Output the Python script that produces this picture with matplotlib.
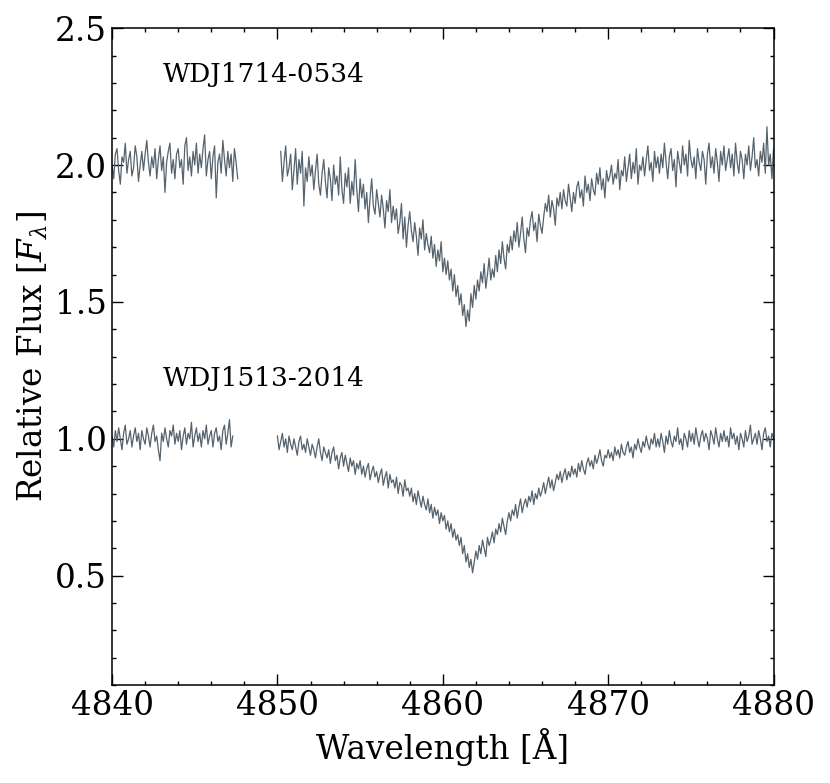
import numpy as np
import matplotlib
matplotlib.use('Agg')
from matplotlib import pyplot as plt
from matplotlib.ticker import MultipleLocator

plt.rcParams['font.family'] = 'DejaVu Serif'
plt.rcParams['mathtext.fontset'] = 'dejavuserif'

# WDJ1714-0534, offset by +1, blue side of the gap (starts 4840.0 A, 0.1 A steps)
top_left = [
    2.00, 1.95, 2.04, 2.06, 1.98, 1.93, 2.03, 2.01, 2.08, 1.97,
    2.02, 2.05, 1.96, 1.99, 2.07, 2.03, 1.94, 2.00, 2.05, 1.98,
    2.04, 2.09, 2.01, 1.96, 2.03, 1.99, 2.06, 1.95, 2.02, 2.07,
    1.98, 2.03, 1.90, 2.01, 2.05, 2.08, 1.97, 2.02, 1.95, 2.04,
    2.06, 1.99, 2.02, 1.93, 2.07, 2.10, 1.98, 2.03, 1.96, 2.05,
    2.00, 2.08, 1.97, 2.04, 1.99, 2.06, 2.11, 1.96, 2.02, 2.05,
    1.95, 2.03, 2.07, 1.88, 2.01, 2.04, 1.97, 2.09, 2.02, 1.96,
    2.05, 1.99, 2.04, 1.94, 2.06, 2.01, 1.95]
# red side of the gap (starts 4850.2 A)
top_right = [
    2.05, 1.94, 2.01, 2.07, 1.96, 1.99, 2.04, 1.91, 1.98, 2.06,
    1.93, 2.02, 1.97, 2.05, 1.85, 1.99, 1.94, 2.03, 1.96, 2.00,
    1.91, 1.98, 2.04, 1.93, 1.89, 1.97, 2.02, 1.94, 1.88, 1.99,
    1.95, 1.87, 2.00, 1.93, 1.96, 1.89, 2.03, 1.91, 1.86, 1.97,
    1.92, 1.99, 1.86, 1.94, 1.89, 2.02, 1.91, 1.83, 1.95, 1.88,
    1.93, 1.84, 1.90, 1.79, 1.88, 1.95, 1.85, 1.82, 1.91, 1.86,
    1.81, 1.89, 1.84, 1.77, 1.87, 1.83, 1.91, 1.79, 1.85, 1.80,
    1.84, 1.75, 1.79, 1.86, 1.73, 1.81, 1.70, 1.78, 1.83, 1.76,
    1.72, 1.79, 1.74, 1.67, 1.77, 1.73, 1.80, 1.69, 1.75, 1.71,
    1.68, 1.74, 1.66, 1.71, 1.63, 1.69, 1.65, 1.72, 1.61, 1.66,
    1.60, 1.65, 1.58, 1.62, 1.54, 1.60, 1.52, 1.56, 1.49, 1.53,
    1.45, 1.49, 1.41, 1.47, 1.43, 1.53, 1.48, 1.56, 1.51, 1.58,
    1.54, 1.61, 1.57, 1.64, 1.55, 1.60, 1.66, 1.58, 1.62, 1.59,
    1.67, 1.61, 1.69, 1.64, 1.72, 1.66, 1.62, 1.71, 1.68, 1.74,
    1.69, 1.76, 1.72, 1.79, 1.70, 1.75, 1.81, 1.73, 1.68, 1.77,
    1.74, 1.80, 1.83, 1.76, 1.79, 1.72, 1.82, 1.78, 1.75, 1.81,
    1.86, 1.83, 1.89, 1.81, 1.87, 1.84, 1.78, 1.88, 1.85, 1.90,
    1.84, 1.91, 1.87, 1.85, 1.93, 1.88, 1.83, 1.90, 1.86, 1.92,
    1.94, 1.88, 1.91, 1.85, 1.96, 1.90, 1.93, 1.87, 1.95, 1.91,
    1.89, 1.97, 1.93, 1.99, 1.91, 1.95, 1.88, 1.98, 1.94, 1.96,
    2.00, 1.93, 1.97, 1.95, 2.02, 1.91, 1.98, 1.96, 2.03, 1.94,
    1.99, 2.04, 1.95, 2.01, 1.97, 2.06, 1.93, 2.00, 1.98, 2.03,
    1.96, 2.02, 2.07, 1.98, 2.01, 1.94, 2.05, 1.99, 2.03, 1.97,
    2.04, 1.99, 2.08, 2.01, 1.95, 2.03, 2.06, 1.98, 2.02, 1.92,
    2.05, 2.01, 1.97, 2.07, 2.00, 2.04, 1.96, 2.09, 2.02, 1.99,
    2.03, 1.95, 2.06, 2.01, 1.98, 2.05, 2.02, 1.93, 2.04, 2.08,
    1.99, 2.03, 1.97, 2.06, 2.01, 1.94, 2.05, 2.00, 2.07, 1.98,
    2.02, 2.06, 1.99, 2.04, 1.96, 2.08, 2.01, 1.97, 2.05, 2.02,
    1.95, 2.04, 2.00, 2.07, 1.98, 2.03, 2.10, 1.99, 2.02, 1.96,
    2.05, 2.01, 2.08, 1.97, 2.14, 2.00, 2.04, 1.95, 2.06, 2.02]

# WDJ1513-2014, blue side (starts 4840.0 A)
bot_left = [
    1.01, 0.97, 1.03, 0.99, 1.04, 1.00, 0.96, 1.02, 1.05, 0.98,
    1.00, 1.03, 0.97, 1.01, 1.04, 0.99, 1.02, 0.96, 1.03, 1.00,
    0.98, 1.04, 1.01, 0.97, 1.02, 1.05, 0.99, 1.01, 0.96, 0.92,
    1.02, 0.99, 1.04, 1.00, 0.97, 1.03, 1.01, 1.05, 0.98, 1.02,
    0.99, 1.03, 0.96, 1.01, 1.04, 0.98, 1.02, 1.00, 1.06, 0.97,
    1.01, 1.04, 0.99, 1.02, 0.97, 1.03, 1.00, 1.05, 0.98, 1.01,
    1.03, 0.97, 1.02, 1.04, 0.99, 1.01, 0.96, 1.03, 1.05, 0.98,
    1.02, 1.07, 0.97, 1.01]
# red side (starts 4850.0 A)
bot_right = [
    1.01, 0.96, 0.99, 1.02, 0.97, 1.00, 0.95, 1.01, 0.98, 0.96,
    1.00, 0.97, 0.94, 0.99, 1.01, 0.96, 0.98, 0.95, 1.00, 0.97,
    0.94, 0.98, 0.96, 0.93, 0.97, 1.00, 0.95, 0.92, 0.97, 0.95,
    0.93, 0.96, 0.91, 0.95, 0.97, 0.92, 0.94, 0.89, 0.93, 0.95,
    0.90, 0.94, 0.91, 0.88, 0.93, 0.90, 0.92, 0.87, 0.91, 0.89,
    0.92, 0.87, 0.90, 0.86, 0.89, 0.91, 0.85, 0.88, 0.90, 0.86,
    0.88, 0.84, 0.87, 0.89, 0.83, 0.86, 0.88, 0.82, 0.87, 0.84,
    0.85, 0.82, 0.86, 0.80, 0.84, 0.83, 0.79, 0.85, 0.81, 0.82,
    0.79, 0.82, 0.77, 0.80, 0.76, 0.81, 0.78, 0.75, 0.79, 0.76,
    0.74, 0.78, 0.73, 0.76, 0.71, 0.75, 0.72, 0.74, 0.69, 0.73,
    0.70, 0.72, 0.67, 0.70, 0.66, 0.69, 0.64, 0.67, 0.63, 0.65,
    0.61, 0.64, 0.58, 0.61, 0.55, 0.58, 0.53, 0.56, 0.51, 0.55,
    0.59, 0.56, 0.61, 0.58, 0.63, 0.60, 0.57, 0.64, 0.61, 0.63,
    0.66, 0.62, 0.67, 0.65, 0.69, 0.66, 0.71, 0.68, 0.65, 0.70,
    0.73, 0.70, 0.74, 0.72, 0.76, 0.71, 0.75, 0.78, 0.73, 0.76,
    0.78, 0.75, 0.79, 0.77, 0.81, 0.76, 0.80, 0.78, 0.82, 0.79,
    0.81, 0.84, 0.80, 0.83, 0.86, 0.82, 0.85, 0.81, 0.84, 0.87,
    0.85, 0.88, 0.84, 0.87, 0.89, 0.85, 0.88, 0.86, 0.90, 0.87,
    0.89, 0.86, 0.91, 0.88, 0.92, 0.89, 0.87, 0.91, 0.93, 0.90,
    0.92, 0.89, 0.94, 0.91, 0.93, 0.96, 0.92, 0.90, 0.94, 0.93,
    0.96, 0.93, 0.95, 0.92, 0.97, 0.94, 0.96, 0.93, 0.98, 0.95,
    0.94, 0.97, 0.99, 0.95, 0.97, 0.93, 0.98, 0.96, 1.00, 0.97,
    0.95, 0.99, 0.97, 1.01, 0.98, 0.96, 1.00, 0.98, 1.02, 0.97,
    1.00, 0.97, 1.02, 0.99, 0.95, 1.01, 0.98, 1.03, 0.99, 0.97,
    1.01, 0.99, 1.04, 0.98, 1.00, 0.96, 1.02, 1.00, 0.97, 1.03,
    0.99, 1.02, 0.98, 1.04, 1.00, 0.97, 1.01, 1.03, 0.99, 1.02,
    1.00, 0.96, 1.03, 1.01, 0.98, 1.04, 1.00, 0.97, 1.02, 0.99,
    1.03, 0.99, 1.01, 0.97, 1.04, 1.00, 1.02, 0.98, 1.01, 0.96,
    1.02, 1.00, 0.97, 1.03, 0.99, 1.01, 1.05, 0.98, 1.00, 1.02,
    0.98, 1.03, 1.00, 0.96, 1.02, 1.04, 0.99, 1.01, 0.97, 1.02,
    1.00]

step = 0.1
segments = [(4840.0, top_left), (4850.2, top_right),
            (4840.0, bot_left), (4850.0, bot_right)]
names = ['WDJ1714-0534', 'WDJ1513-2014']
name_y = [2.33, 1.22]
col = '#56636d'

fig = plt.figure(figsize=(8.3, 7.83), dpi=100)
ax = fig.add_axes([0.135, 0.125, 0.797, 0.839])

for start, flux in segments:
    wl = start + step * np.arange(len(flux))
    ax.plot(wl, flux, color=col, lw=0.9)

for n, yy in zip(names, name_y):
    ax.text(4843.1, yy, n, fontsize=19, va='center')

ax.set_xlim(4840, 4880)
ax.set_ylim(0.1, 2.5)
ax.xaxis.set_major_locator(MultipleLocator(10))
ax.xaxis.set_minor_locator(MultipleLocator(2))
ax.yaxis.set_major_locator(MultipleLocator(0.5))
ax.yaxis.set_minor_locator(MultipleLocator(0.1))
ax.tick_params(which='both', direction='in', top=True, right=True, labelsize=23.5)
ax.tick_params(which='major', length=8, width=1)
ax.tick_params(which='minor', length=3, width=1)
for sp in ax.spines.values():
    sp.set_linewidth(1.1)
ax.set_xlabel('Wavelength [Å]', fontsize=23.5)
ax.set_ylabel(r'Relative Flux [$F_\lambda$]', fontsize=23.5)

fig.savefig('out.png', dpi=100)
